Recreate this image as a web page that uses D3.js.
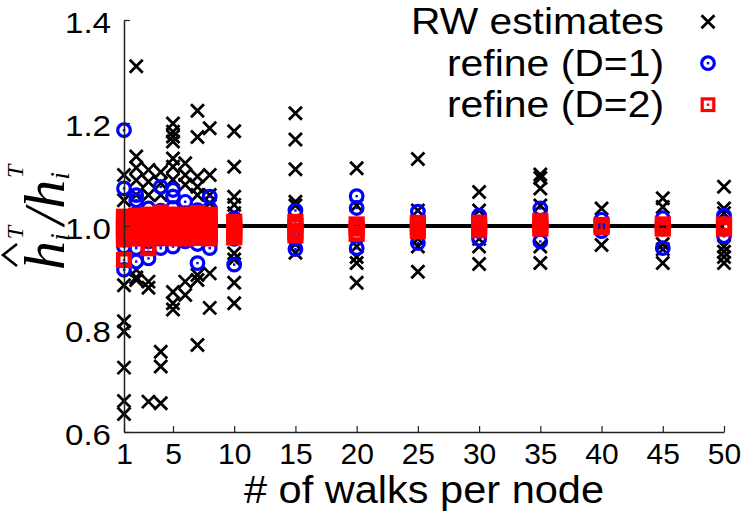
<html>
<head>
  <script src="https://d3js.org/d3.v7.min.js"></script>
  <style>
    body { margin: 0; background: #fff; }
  </style>
</head>
<body>
  <script>
    // walks per node (x) and one list of values per column
    let walks = [1, 2, 3, 4, 5, 6, 7, 8, 10, 15, 20, 25, 30, 35, 40, 45, 50];

    let rwEstimates = [
      [1.099, 1.05, 1.0, 0.985, 0.885, 0.815, 0.795, 0.725, 0.66, 0.635],
      [1.31, 1.135, 1.113, 1.089, 1.06, 1.01, 0.985, 0.915, 0.9, 0.895],
      [1.109, 1.086, 1.06, 1.02, 0.97, 0.892, 0.88, 0.659],
      [1.105, 1.083, 1.06, 1.015, 0.98, 0.756, 0.727, 0.656],
      [1.199, 1.183, 1.174, 1.164, 1.131, 1.115, 1.09, 1.02, 0.975, 0.872, 0.85, 0.838],
      [1.122, 1.099, 1.08, 1.01, 0.975, 0.892, 0.866],
      [1.224, 1.173, 1.096, 1.076, 1.06, 1.0, 0.905, 0.895, 0.769],
      [1.19, 1.099, 1.06, 1.044, 0.99, 0.908, 0.841],
      [1.184, 1.115, 1.057, 1.041, 1.025, 0.947, 0.935, 0.89, 0.85],
      [1.219, 1.168, 1.11, 1.047, 1.04, 0.965, 0.948],
      [1.112, 1.04, 0.96, 0.94, 0.928, 0.89],
      [1.13, 1.03, 0.975, 0.96, 0.911],
      [1.066, 1.03, 0.975, 0.96, 0.926],
      [1.1, 1.093, 1.073, 1.04, 0.96, 0.928],
      [1.034, 1.0, 0.963],
      [1.054, 1.037, 0.965, 0.955, 0.928],
      [1.076, 1.034, 1.025, 0.96, 0.95, 0.94, 0.928]
    ];

    let refineD1 = [
      [1.186, 1.073, 1.01, 0.99, 0.96, 0.915],
      [1.06, 1.05, 1.024, 1.0, 0.975, 0.957, 0.931],
      [1.034, 1.015, 0.99, 0.97, 0.937],
      [1.076, 1.03, 1.0, 0.975, 0.957],
      [1.07, 1.057, 1.035, 1.005, 0.98, 0.96],
      [1.047, 1.025, 0.995, 0.97],
      [1.031, 1.01, 0.985, 0.965, 0.928],
      [1.057, 1.034, 1.015, 0.985, 0.957],
      [1.015, 0.99, 0.975, 0.925],
      [1.03, 1.0, 0.975, 0.955],
      [1.058, 1.035, 1.0, 0.957],
      [1.028, 1.0, 0.967],
      [1.02, 1.0, 0.975],
      [1.034, 1.0, 0.97],
      [1.012, 0.99],
      [1.015, 0.995, 0.957],
      [1.02, 0.995, 0.98]
    ];

    let refineD2 = [
      [1.018, 1.01, 1.003, 0.995, 0.988, 0.98, 0.974, 0.934],
      [1.02, 1.012, 1.005, 0.998, 0.99, 0.983, 0.976],
      [1.022, 1.014, 1.006, 0.998, 0.99, 0.982, 0.975, 0.957],
      [1.026, 1.018, 1.01, 1.002, 0.994, 0.986, 0.978],
      [1.022, 1.014, 1.006, 0.998, 0.99, 0.982, 0.976],
      [1.022, 1.014, 1.006, 0.998, 0.99, 0.982, 0.976],
      [1.025, 1.017, 1.009, 1.0, 0.992, 0.984, 0.977],
      [1.022, 1.014, 1.006, 0.998, 0.99, 0.982, 0.976],
      [1.008, 1.0, 0.992, 0.985, 0.978],
      [1.008, 1.0, 0.99, 0.982],
      [1.003, 0.995, 0.985],
      [1.006, 0.998, 0.99],
      [1.006, 0.998, 0.992],
      [1.01, 1.002, 0.995],
      [1.002, 0.998],
      [1.003, 0.995],
      [1.003, 0.995]
    ];

    let xTicks = [1, 5, 10, 15, 20, 25, 30, 35, 40, 45, 50];
    let yTicks = [0.6, 0.8, 1.0, 1.2, 1.4];
    let legendLabels = ["RW estimates", "refine (D=1)", "refine (D=2)"];

    let width = 750;
    let height = 525;

    let svg = d3.select("body")
      .append("svg")
      .attr("width", width)
      .attr("height", height);

    let x = d3.scaleLinear().domain([1, 50]).range([124, 724]);
    let y = d3.scaleLinear().domain([0.6, 1.4]).range([432, 20]);

    function flatten(series) {
      let out = [];
      series.forEach(function(vals, i) {
        vals.forEach(function(v) { out.push({ x: walks[i], y: v }); });
      });
      return out;
    }

    // reference line at 1
    svg.append("line")
      .attr("x1", x(1)).attr("x2", x(50))
      .attr("y1", y(1)).attr("y2", y(1))
      .attr("stroke", "#000")
      .attr("stroke-width", 4);

    // marker drawers
    function drawCross(g, cx, cy) {
      let s = 6.5;
      g.append("path")
        .attr("d", "M" + (cx - s) + "," + (cy - s) + "L" + (cx + s) + "," + (cy + s) +
                   "M" + (cx - s) + "," + (cy + s) + "L" + (cx + s) + "," + (cy - s))
        .attr("stroke", "#000").attr("stroke-width", 2.8).attr("fill", "none");
    }
    function drawCircle(g, cx, cy) {
      g.append("circle").attr("cx", cx).attr("cy", cy).attr("r", 6.3)
        .attr("fill", "none").attr("stroke", "#0000ff").attr("stroke-width", 3.2);
      g.append("rect").attr("x", cx - 1.2).attr("y", cy - 1.2).attr("width", 2.4).attr("height", 2.4)
        .attr("fill", "#0000ff");
    }
    function drawSquare(g, cx, cy, sw) {
      let s = 5.8;
      g.append("rect").attr("x", cx - s).attr("y", cy - s).attr("width", 2 * s).attr("height", 2 * s)
        .attr("fill", "none").attr("stroke", "#ff0000").attr("stroke-width", sw || 4.6);
      g.append("rect").attr("x", cx - 1.2).attr("y", cy - 1.2).attr("width", 2.4).attr("height", 2.4)
        .attr("fill", "#ff0000");
    }

    let gRW = svg.append("g");
    flatten(rwEstimates).forEach(function(d) { drawCross(gRW, x(d.x), y(d.y)); });
    let gD1 = svg.append("g");
    flatten(refineD1).forEach(function(d) { drawCircle(gD1, x(d.x), y(d.y)); });
    let gD2 = svg.append("g");
    flatten(refineD2).forEach(function(d) { drawSquare(gD2, x(d.x), y(d.y)); });

    // axes
    let xAxis = svg.append("g")
      .attr("transform", "translate(0," + y(0.6) + ")")
      .call(d3.axisBottom(x).tickValues(xTicks).tickSizeInner(-6).tickSizeOuter(0).tickPadding(11));
    let yAxis = svg.append("g")
      .attr("transform", "translate(" + x(1) + ",0)")
      .call(d3.axisLeft(y).tickValues(yTicks).tickFormat(d3.format(".1f"))
        .tickSizeInner(-6).tickSizeOuter(0).tickPadding(13));

    [xAxis, yAxis].forEach(function(a) {
      a.select(".domain").attr("stroke", "#222").attr("stroke-width", 1.5);
      a.selectAll(".tick line").attr("stroke", "#222").attr("stroke-width", 1.2);
      a.selectAll("text").attr("fill", "#000").attr("font-family", "Liberation Sans, Arial, sans-serif");
    });
    xAxis.selectAll("text").attr("font-size", 30);
    yAxis.selectAll("text").attr("font-size", 29).attr("dy", "0.42em")
      .attr("textLength", 46).attr("lengthAdjust", "spacingAndGlyphs");

    // x label
    svg.append("text")
      .attr("x", (x(1) + x(50)) / 2)
      .attr("y", 503)
      .attr("text-anchor", "middle")
      .attr("font-family", "Liberation Sans, Arial, sans-serif")
      .attr("font-size", 38)
      .attr("textLength", 360)
      .attr("lengthAdjust", "spacingAndGlyphs")
      .text("# of walks per node");

    // y label: hat h_i^T / h_i^T
    let yl = svg.append("g").attr("transform", "translate(64,270) rotate(-90)");
    let t = yl.append("text")
      .attr("x", 0).attr("y", 0)
      .attr("font-family", "Liberation Serif, Times New Roman, serif")
      .attr("font-style", "italic")
      .attr("font-size", 58);
    t.append("tspan").text("h");
    t.append("tspan").attr("font-size", 28).attr("dy", 5).text("i");
    t.append("tspan").attr("font-size", 24).attr("dx", -6).attr("dy", -46).text("T");
    t.append("tspan").attr("dy", 41).attr("dx", 1).text("/");
    t.append("tspan").text("h");
    t.append("tspan").attr("font-size", 28).attr("dy", 5).text("i");
    t.append("tspan").attr("font-size", 24).attr("dx", -6).attr("dy", -46).text("T");
    yl.append("path")
      .attr("d", "M4,-47L15,-61L26,-47")
      .attr("fill", "none").attr("stroke", "#000").attr("stroke-width", 2.6);

    // legend
    let legend = svg.append("g");
    let markers = [drawCross, drawCircle, drawSquare];
    legendLabels.forEach(function(label, i) {
      let cy = 21.7 + i * 41.5;
      legend.append("text")
        .attr("x", 664).attr("y", cy + 12.5)
        .attr("text-anchor", "end")
        .attr("font-family", "Liberation Sans, Arial, sans-serif")
        .attr("font-size", 37)
        .attr("textLength", i === 0 ? 253 : 217)
        .attr("lengthAdjust", "spacingAndGlyphs")
        .text(label);
      markers[i](legend, 708, cy, 3.2);
    });
  </script>
</body>
</html>
